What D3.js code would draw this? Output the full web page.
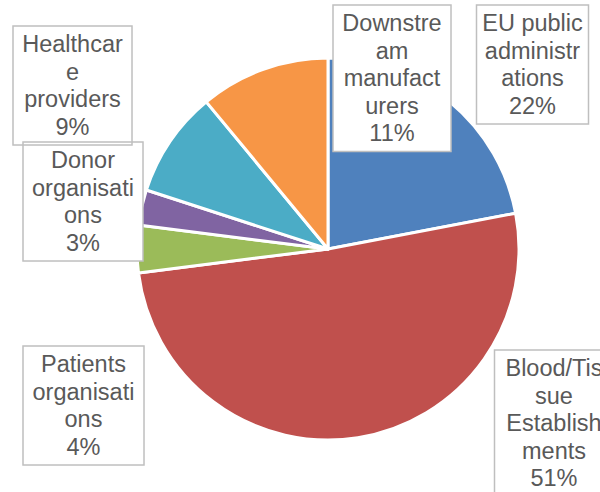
<!DOCTYPE html>
<html>
<head>
<meta charset="utf-8">
<script src="https://cdn.jsdelivr.net/npm/d3@7"></script>
<style>
  html, body { margin: 0; padding: 0; background: #fff; }
  svg { display: block; }
</style>
</head>
<body>
<svg id="chart" width="600" height="492"></svg>
<script>
// ---- data ----
const categories = [
  "EU public administrations",
  "Blood/Tissue Establishments",
  "Patients organisations",
  "Donor organisations",
  "Healthcare providers",
  "Downstream manufacturers"
];
const values = [22, 51, 4, 3, 9, 11];
const colors = ["#4f81bd", "#c0504d", "#9bbb59", "#8064a2", "#4bacc6", "#f79646"];

// ---- layout (label box placement: center x, top y, width) ----
const labelBoxes = [
  { cx: 532.5, top: 5, w: 112 },
  { cx: 554, top: 350, w: 119 },
  { cx: 83.5, top: 346, w: 121 },
  { cx: 83, top: 142, w: 120 },
  { cx: 72.5, top: 26, w: 119 },
  { cx: 392, top: 5, w: 118 }
];

const W = 600, H = 492;
const cx = 328, cy = 249, R = 191;
const fontSize = 23.5, lineH = 27.5, wrapW = 105;
const fontFamily = "'Liberation Sans', Arial, sans-serif";

const svg = d3.select("#chart");

const pie = d3.pie().sort(null).value(d => d)(values);
const arc = d3.arc().innerRadius(0).outerRadius(R);

svg.append("g")
  .attr("transform", `translate(${cx},${cy})`)
  .selectAll("path")
  .data(pie)
  .join("path")
  .attr("d", arc)
  .attr("fill", (d, i) => colors[i])
  .attr("stroke", "#fff")
  .attr("stroke-width", 3)
  .attr("stroke-linejoin", "round");

// text measurement
const measurer = svg.append("text")
  .attr("font-family", fontFamily)
  .attr("font-size", fontSize)
  .attr("visibility", "hidden");
function tw(s) { measurer.text(s); return measurer.node().getComputedTextLength(); }

// Excel-like wrapping: words, breaking long words by characters
function wrap(text, maxW) {
  const words = text.split(" ");
  const lines = [];
  let cur = "";
  for (const word of words) {
    let w = word;
    const trial = cur ? cur + " " + w : w;
    if (tw(trial) <= maxW) { cur = trial; continue; }
    if (cur) { lines.push(cur); cur = ""; }
    while (tw(w) > maxW) {
      let k = w.length;
      while (k > 1 && tw(w.slice(0, k)) > maxW) k--;
      lines.push(w.slice(0, k));
      w = w.slice(k);
    }
    cur = w;
  }
  if (cur) lines.push(cur);
  return lines;
}

const labels = categories.map((c, i) => {
  const lines = wrap(c, wrapW);
  lines.push(values[i] + "%");
  const b = labelBoxes[i];
  const h = lines.length * lineH + 9;
  return { lines, x: b.cx - b.w / 2, y: b.top, w: b.w, h, cx: b.cx };
});
measurer.remove();

const lg = svg.append("g");
// fills first
lg.selectAll("rect.fill").data(labels).join("rect")
  .attr("class", "fill")
  .attr("x", d => d.x).attr("y", d => d.y)
  .attr("width", d => d.w).attr("height", d => d.h)
  .attr("fill", "#fff");
// borders
lg.selectAll("rect.border").data(labels).join("rect")
  .attr("class", "border")
  .attr("x", d => d.x).attr("y", d => d.y)
  .attr("width", d => d.w).attr("height", d => d.h)
  .attr("fill", "none")
  .attr("stroke", "#bfbfbf")
  .attr("stroke-width", 1.5);
// texts
labels.forEach(d => {
  const t = lg.append("text")
    .attr("font-family", fontFamily)
    .attr("font-size", fontSize)
    .attr("fill", "#595959")
    .attr("text-anchor", "middle");
  const firstBase = d.y + d.h / 2 - (d.lines.length * lineH) / 2 + lineH / 2 + fontSize * 0.35;
  d.lines.forEach((ln, j) => {
    t.append("tspan").attr("x", d.cx).attr("y", firstBase + j * lineH).text(ln);
  });
});
</script>
</body>
</html>
